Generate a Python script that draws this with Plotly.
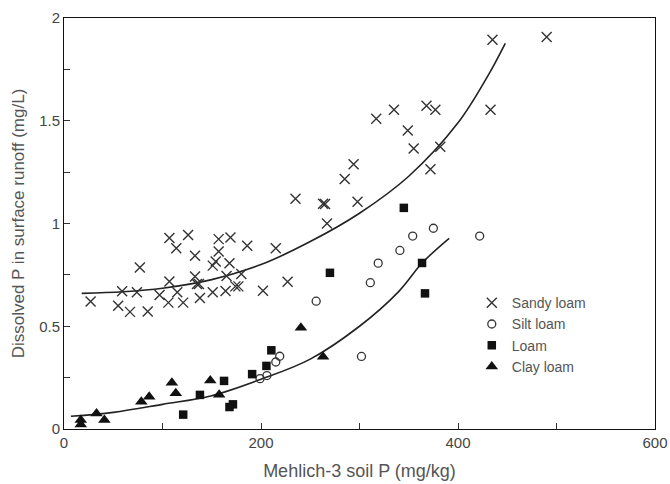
import plotly.graph_objects as go

# Sandy loam (x markers)
sandy_x = [27, 55, 59, 67, 74, 77, 85, 97, 107, 107, 106, 114, 115, 121, 126, 133, 133, 135, 137, 138,
           151, 154, 151, 157, 157, 168, 165, 164, 169, 174, 177, 180, 186, 202, 215, 227, 235, 263,
           265, 267, 285, 294, 298, 317, 335, 349, 355, 368, 372, 377, 382, 433, 435, 490]
sandy_y = [0.62, 0.60, 0.67, 0.57, 0.665, 0.786, 0.572, 0.652, 0.93, 0.718, 0.615, 0.88, 0.665, 0.615,
           0.944, 0.843, 0.742, 0.706, 0.706, 0.637, 0.795, 0.815, 0.665, 0.924, 0.864, 0.807, 0.744,
           0.671, 0.932, 0.694, 0.694, 0.754, 0.892, 0.673, 0.88, 0.717, 1.12, 1.096, 1.095, 1.0,
           1.216, 1.288, 1.106, 1.51, 1.553, 1.452, 1.365, 1.573, 1.264, 1.553, 1.374, 1.553, 1.894, 1.907]

# Silt loam (open circles)
silt_x = [199, 206, 215, 219, 256, 302, 311, 319, 341, 354, 375, 422]
silt_y = [0.245, 0.26, 0.326, 0.354, 0.622, 0.353, 0.712, 0.807, 0.869, 0.939, 0.977, 0.939]

# Loam (filled squares)
loam_x = [121, 138, 162.5, 168, 171.5, 191, 205.5, 210.5, 270, 345, 363.5, 366.5]
loam_y = [0.07, 0.166, 0.234, 0.107, 0.12, 0.267, 0.307, 0.383, 0.76, 1.076, 0.808, 0.66]

# Clay loam (filled triangles)
clay_x = [17, 17, 33, 41, 78.5, 86.5, 109.5, 113.5, 148.5, 157.5, 240.5, 263]
clay_y = [0.044, 0.022, 0.076, 0.044, 0.133, 0.157, 0.225, 0.174, 0.236, 0.167, 0.493, 0.352]

# Fitted curves
upper_x = [18, 60, 100, 150, 200, 250, 300, 350, 400, 430, 448]
upper_y = [0.66, 0.668, 0.685, 0.727, 0.80, 0.912, 1.05, 1.23, 1.49, 1.716, 1.877]
lower_x = [7, 50, 100, 150, 200, 250, 300, 340, 364, 391]
lower_y = [0.062, 0.081, 0.12, 0.162, 0.242, 0.34, 0.50, 0.67, 0.81, 0.928]

x_ticks = [0, 200, 400, 600]
y_ticks = [0, 0.5, 1, 1.5, 2]

FONT = "Liberation Sans, Arial, sans-serif"

fig = go.Figure()
fig.add_trace(go.Scatter(x=upper_x, y=upper_y, mode="lines", line=dict(color="#222", width=1.6, shape="spline"),
                         showlegend=False, hoverinfo="skip"))
fig.add_trace(go.Scatter(x=lower_x, y=lower_y, mode="lines", line=dict(color="#222", width=1.6, shape="spline"),
                         showlegend=False, hoverinfo="skip"))
fig.add_trace(go.Scatter(x=sandy_x, y=sandy_y, mode="markers", name="Sandy loam",
                         marker=dict(symbol="x-thin", size=10, line=dict(width=1.4, color="#333"), color="#333")))
fig.add_trace(go.Scatter(x=silt_x, y=silt_y, mode="markers", name="Silt loam",
                         marker=dict(symbol="circle-open", size=8, line=dict(width=1.3, color="#333"), color="#333")))
fig.add_trace(go.Scatter(x=loam_x, y=loam_y, mode="markers", name="Loam",
                         marker=dict(symbol="square", size=8.5, color="#111")))
fig.add_trace(go.Scatter(x=clay_x, y=clay_y, mode="markers", name="Clay loam",
                         marker=dict(symbol="triangle-up", size=11, color="#111")))

axis_common = dict(showline=True, linecolor="#111", linewidth=1, mirror=True, showgrid=False, zeroline=False,
                   ticks="inside", ticklen=6, tickcolor="#333", ticklabeloverflow="allow", automargin=False,
                   tickfont=dict(family=FONT, size=15, color="#444"))

fig.update_layout(
    width=670, height=484,
    margin=dict(l=64, r=15, t=18, b=55, autoexpand=False),
    plot_bgcolor="white", paper_bgcolor="white",
    xaxis=dict(range=[0, 600], tickvals=x_ticks, ticktext=[str(v) for v in x_ticks],
               minor=dict(dtick=100, tick0=0, ticks="inside", ticklen=6, tickcolor="#333"),
               title=dict(text="Mehlich-3 soil P (mg/kg)", font=dict(family=FONT, size=18, color="#555"), standoff=14),
               **axis_common),
    yaxis=dict(range=[0, 2], tickvals=y_ticks, ticktext=["0", "0.5", "1", "1.5", "2"],
               minor=dict(dtick=0.25, tick0=0, ticks="inside", ticklen=6, tickcolor="#333"),
               title=dict(text="Dissolved P in surface runoff (mg/L)", font=dict(family=FONT, size=17, color="#555"), standoff=10),
               **axis_common),
    legend=dict(x=0.69, y=0.345, xanchor="left", yanchor="top", bgcolor="rgba(0,0,0,0)",
                font=dict(family=FONT, size=14, color="#555"), tracegroupgap=0),
)

fig.write_html("out.html")
